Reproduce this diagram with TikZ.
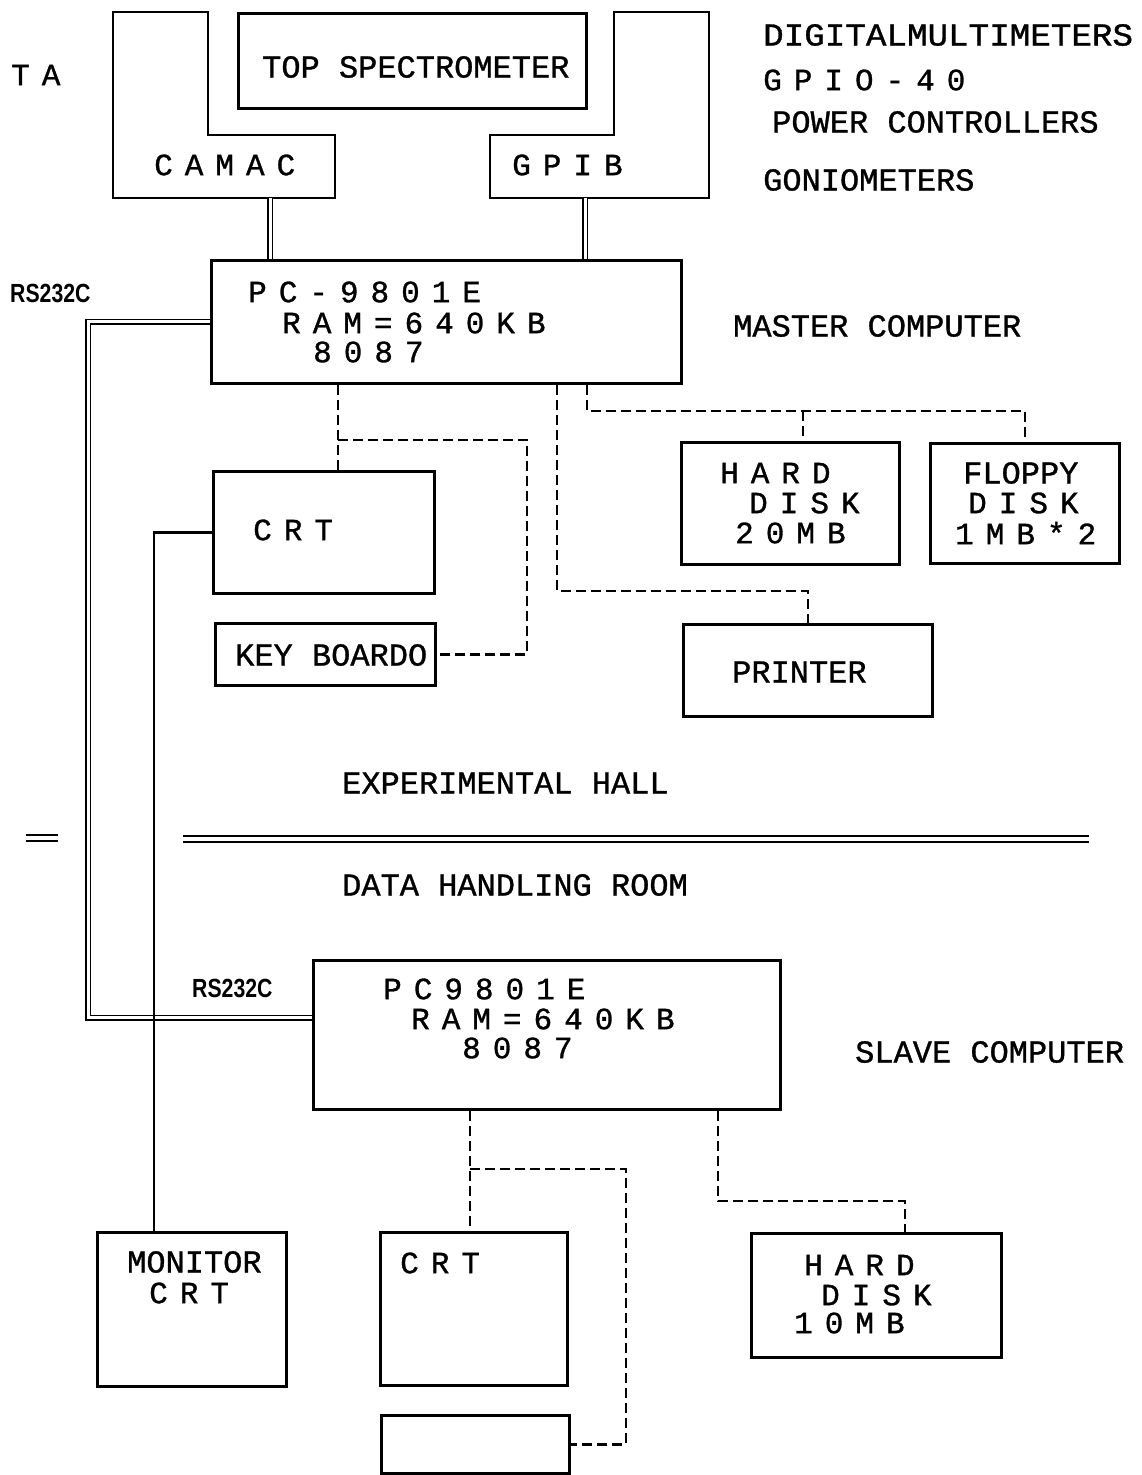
\documentclass[tikz,border=0pt]{standalone}
\usepackage{fontspec}
\newfontface\monof{Liberation Mono}[FakeBold=1]
\newfontface\sansf{Liberation Sans Bold}
\newcommand\txtfont{\monof\fontsize{32}{36}\selectfont}
\newcommand\spacedfont{\monof\fontsize{31}{34}\selectfont\spaceskip=12pt\relax}
\begin{document}
\begin{tikzpicture}[x=1pt,y=-1pt,
  box/.style={draw, line width=2.8pt, inner sep=0pt, anchor=north west},
  lshape/.style={draw, line width=2.8pt, line join=miter},
  txt/.style={inner sep=0pt, anchor=west, font=\txtfont},
  spaced/.style={inner sep=0pt, anchor=west, font=\spacedfont},
  rs/.style={inner sep=0pt, anchor=west, font=\sansf\fontsize{25}{28}\selectfont},
  dsh/.style={draw, line width=2.2pt, dash pattern=on 10pt off 5pt},
  dbl/.style={draw, line width=1.4pt, double distance=3pt, line join=miter},
  thinline/.style={draw, line width=2.2pt}]
\useasboundingbox (0,0) rectangle (1142,1475);
\fill[white] (0,0) rectangle (1142,1475);

% top devices
\node[spaced] (ta) at (11,75) {T A};
\node[box, minimum width=348pt, minimum height=95pt] (top) at (237,12) {};
\node[txt] (toptxt) at (262,67) {TOP SPECTROMETER};
\draw[lshape] (113,12) -- (208,12) -- (208,135) -- (335,135) -- (335,198) -- (113,198) -- cycle;
\node[spaced] (camac) at (154,165) {C A M A C};
\draw[lshape] (614,12) -- (709,12) -- (709,198) -- (490,198) -- (490,135) -- (614,135) -- cycle;
\node[spaced] (gpib) at (512,165) {G P I B};
\coordinate (cb) at (270,198);
\coordinate (gb) at (585,198);

% right labels
\node[txt] (dmm) at (763,35) {\scalebox{1.07}[1]{DIGITALMULTIMETERS}};
\node[spaced] (gpio) at (763,80) {G P I O - 4 0};
\node[txt] (pwr) at (772,122) {POWER CONTROLLERS};
\node[txt] (gon) at (763,180) {GONIOMETERS};

% master computer
\node[box, minimum width=470pt, minimum height=123pt] (master) at (210,259) {};
\node[spaced] (m1) at (248,292) {P C - 9 8 0 1 E};
\node[spaced] (m2) at (282,323) {R A M = 6 4 0 K B};
\node[spaced] (m3) at (313,352) {8 0 8 7};
\node[txt] (mastertxt) at (733,326) {MASTER COMPUTER};
\node[rs] (rs1) at (10,293) {\scalebox{0.85}[1.05]{RS232C}};

\draw[dbl] (cb) -- (cb |- master.north);
\draw[dbl] (gb) -- (gb |- master.north);

% master peripherals
\node[box, minimum width=221pt, minimum height=122pt] (crt) at (212,470) {};
\node[spaced] (crttxt) at (253,530) {C R T};
\node[box, minimum width=220pt, minimum height=62pt] (kb) at (214,622) {};
\node[txt] (kbtxt) at (235,655) {KEY BOARDO};
\node[box, minimum width=218pt, minimum height=122pt] (hd) at (680,441) {};
\node[spaced] (hd1) at (720,473) {H A R D};
\node[spaced] (hd2t) at (749,503) {D I S K};
\node[spaced] (hd3) at (735,533) {2 0 M B};
\node[box, minimum width=189pt, minimum height=120pt] (fd) at (929,442) {};
\node[txt] (fd1) at (963,473) {FLOPPY};
\node[spaced] (fd2) at (968,503) {D I S K};
\node[spaced] (fd3) at (955,533) {1 M B * 2};
\node[box, minimum width=249pt, minimum height=92pt] (printer) at (682,623) {};
\node[txt] (prtxt) at (732,672) {PRINTER};

\coordinate (j1) at (338,440);
\coordinate (j1r) at (527,440);
\draw[dsh] (master.south -| j1) -- (crt.north -| j1);
\draw[dsh] (j1) -- (j1r) |- (kb.east);
\coordinate (j2) at (557,591);
\draw[dsh] (master.south -| j2) -- (j2) -| (printer.north);
\coordinate (j3) at (587,411);
\coordinate (j4) at (803,411);
\draw[dsh] (master.south -| j3) -- (j3) -| (fd.north);
\draw[dsh] (j4) -- (hd.north -| j4);

% separator
\node[txt] (hall) at (342,783) {EXPERIMENTAL HALL};
\node[txt] (room) at (342,885) {DATA HANDLING ROOM};
\coordinate (sepL) at (183,836);
\coordinate (sepR) at (1089,836);
\draw[line width=2.2pt] (sepL) -- (sepR);
\draw[line width=2.2pt] ([yshift=-6pt]sepL) -- ([yshift=-6pt]sepR);
\coordinate (eqL) at (26,835);
\coordinate (eqR) at (58,835);
\draw[line width=2.2pt] (eqL) -- (eqR);
\draw[line width=2.2pt] ([yshift=-6pt]eqL) -- ([yshift=-6pt]eqR);

% slave computer
\node[box, minimum width=467pt, minimum height=149pt] (slave) at (312,959) {};
\node[spaced] (s1) at (383,989) {P C 9 8 0 1 E};
\node[spaced] (s2) at (411,1019) {R A M = 6 4 0 K B};
\node[spaced] (s3) at (462,1048) {8 0 8 7};
\node[txt] (slavetxt) at (855,1052) {SLAVE COMPUTER};
\node[rs] (rs2) at (192,988) {\scalebox{0.85}[1.05]{RS232C}};

\coordinate (rsx) at (88,700);
\draw[dbl] (master.west) -| (rsx) |- ([yshift=17pt]slave.west);

% slave peripherals
\node[box, minimum width=189pt, minimum height=154pt] (monitor) at (96,1231) {};
\node[txt] (mon1) at (127,1262) {MONITOR};
\node[spaced] (mon2) at (149,1293) {C R T};
\node[box, minimum width=187pt, minimum height=153pt] (crt2) at (379,1231) {};
\node[spaced] (crt2txt) at (400,1263) {C R T};
\node[box, minimum width=188pt, minimum height=58pt] (kb2) at (380,1414) {};
\node[box, minimum width=250pt, minimum height=124pt] (hdd2) at (750,1232) {};
\node[spaced] (h1) at (804,1265) {H A R D};
\node[spaced] (h2) at (821,1295) {D I S K};
\node[spaced] (h3) at (794,1323) {1 0 M B};

\draw[thinline] (crt.west) -| ([xshift=58pt]monitor.north west);

\coordinate (j5) at (470,1169);
\coordinate (j5r) at (626,1169);
\draw[dsh] (slave.south -| j5) -- (crt2.north -| j5);
\draw[dsh] (j5) -- (j5r) |- (kb2.east);
\coordinate (j6) at (718,1201);
\coordinate (j6r) at (905,1201);
\draw[dsh] (slave.south -| j6) -- (j6) -- (j6r) -- (hdd2.north -| j6r);
\end{tikzpicture}
\end{document}
